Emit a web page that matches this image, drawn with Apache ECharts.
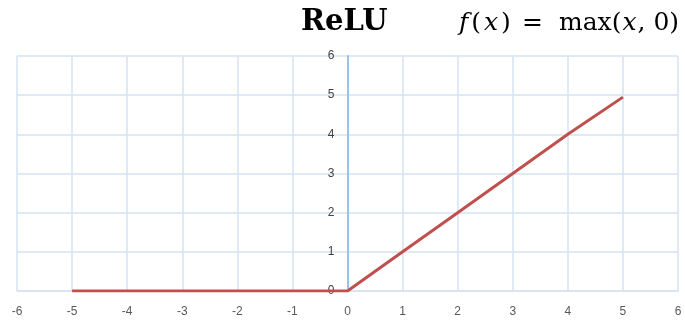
<!DOCTYPE html>
<html><head><meta charset="utf-8">
<script src="https://cdn.jsdelivr.net/npm/echarts@6/dist/echarts.min.js"></script>
<style>html,body{margin:0;padding:0;background:#fff}#c{width:685px;height:320px}</style>
</head><body><div id="c"></div>
<script>
var xValues = [-5, -4, -3, -2, -1, 0, 1, 2, 3, 4, 5];
var yValues = [0, 0, 0, 0, 0, 0, 1, 2, 3, 4, 4.95];
var titleText = 'ReLU';
var formulaLeft = ['f', '(', 'x', ')'];
var formulaEq = '=';
var formulaRight = ['max(', 'x', ', 0)'];

var chart = echarts.init(document.getElementById('c'), null, {renderer: 'canvas'});
var data = xValues.map(function (x, i) { return [x, yValues[i]]; });
var gridLeft = 17, gridRight = 7;
var plotW = 685 - gridLeft - gridRight;
var zeroOffset = plotW * (0 - (-6)) / 12;
chart.setOption({
  animation: false,
  grid: {left: gridLeft, right: gridRight, top: 56, bottom: 29, containLabel: false, outerBoundsMode: 'none'},
  xAxis: {
    type: 'value', min: -6, max: 6, interval: 1,
    axisLine: {show: true, onZero: false, lineStyle: {color: '#d6e3f5', width: 1.5}},
    axisTick: {show: false},
    axisLabel: {color: '#595959', fontSize: 12, fontFamily: 'Liberation Sans', margin: 15},
    splitLine: {show: true, lineStyle: {color: '#d6e3f5', width: 1.5}}
  },
  yAxis: {
    type: 'value', min: 0, max: 6, interval: 1,
    position: 'left', offset: -zeroOffset,
    axisLine: {show: true, onZero: false, lineStyle: {color: '#9cc2eb', width: 2}},
    axisTick: {show: false},
    axisLabel: {color: '#404040', fontSize: 12, fontFamily: 'Liberation Sans', margin: 13},
    splitLine: {show: true, lineStyle: {color: '#d6e3f5', width: 1.5}}
  },
  series: [{
    type: 'line', data: data, symbol: 'none',
    lineStyle: {color: '#c0504d', width: 3},
    z: 5
  }],
  graphic: [
    {type: 'text', left: 301, top: 8, style: {text: titleText, font: 'bold 29px "DejaVu Serif"', fill: '#000'}},
    {type: 'text', left: 459, top: 11, style: {
      text: '{i|' + formulaLeft[0] + '}{n|' + formulaLeft[1] + '}{i|' + formulaLeft[2] + '}{n|' + formulaLeft[3] + '}',
      rich: {
        i: {font: 'italic 25px "DejaVu Serif"', fill: '#000', padding: [0, 2, 0, 2]},
        n: {font: '25px "DejaVu Serif"', fill: '#000', padding: [0, 1, 0, 1]}
      }
    }},
    {type: 'text', left: 522, top: 11, style: {text: formulaEq, font: '25px "DejaVu Serif"', fill: '#000'}},
    {type: 'text', left: 559, top: 11, style: {
      text: '{n|' + formulaRight[0] + '}{i|' + formulaRight[1] + '}{n|' + formulaRight[2] + '}',
      rich: {
        i: {font: 'italic 25px "DejaVu Serif"', fill: '#000', padding: [0, 1, 0, 1]},
        n: {font: '25px "DejaVu Serif"', fill: '#000'}
      }
    }}
  ]
});
</script></body></html>
